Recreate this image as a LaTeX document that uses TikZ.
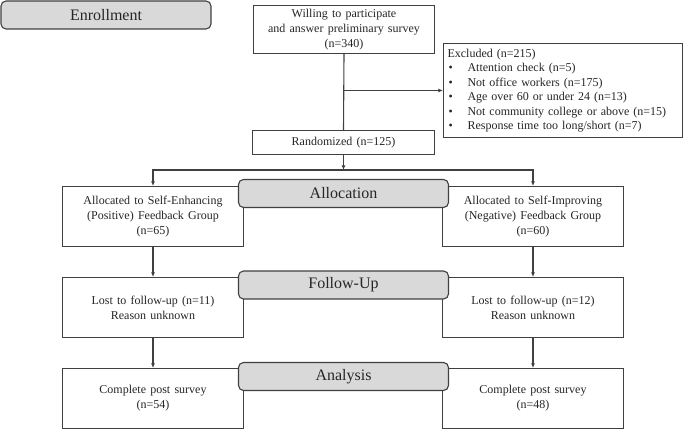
\documentclass[tikz,border=0pt]{standalone}
\usepackage{fontspec}
\setmainfont{Liberation Serif}[WordSpace=1.4]
\usetikzlibrary{arrows.meta}
\definecolor{linec}{HTML}{404040}
\definecolor{hdrfill}{HTML}{D9D9D9}
\definecolor{txtc}{HTML}{262626}
\tikzset{
  box/.style={draw=linec, line width=1.1pt, fill=white, inner sep=0pt, align=center,
    text=txtc, font=\fontsize{12}{15}\selectfont},
  hdr/.style={draw=linec, line width=1.1pt, fill=hdrfill, rounded corners=5pt, inner sep=0pt,
    text=txtc, font=\fontsize{16}{19}\selectfont, minimum width=210pt, minimum height=28pt},
  conn/.style={draw=linec, line width=1.1pt},
  arr/.style={conn, -{Latex[length=4.5pt,width=4pt]}},
}
\newcommand{\bul}{\makebox[20pt][l]{\hspace{1pt}\textbullet}}
\begin{document}
\begin{tikzpicture}[x=1pt,y=-1pt]
\useasboundingbox (0,0) rectangle (685,430);
% main boxes
\node[box, minimum width=181pt, minimum height=48pt] (will) at (344,29.5)
  {Willing to participate\\and answer preliminary survey\\(n=340)};
\node[box, minimum width=182pt, minimum height=24pt] (rand) at (343.5,142.5) {Randomized (n=125)};
\node[box, minimum width=239pt, minimum height=94pt, align=left, text width=231pt,
  font=\fontsize{12}{14.5}\selectfont] (excl) at (563,90.5)
  {Excluded (n=215)\\
   \bul Attention check (n=5)\\
   \bul Not office workers (n=175)\\
   \bul Age over 60 or under 24 (n=13)\\
   \bul Not community college or above (n=15)\\
   \bul Response time too long/short (n=7)};
\node[box, minimum width=181pt, minimum height=60pt] (allocL) at (153,216.5)
  {Allocated to Self-Enhancing\\(Positive) Feedback Group\\(n=65)};
\node[box, minimum width=181pt, minimum height=60pt] (allocR) at (533,216.5)
  {Allocated to Self-Improving\\(Negative) Feedback Group\\(n=60)};
\node[box, minimum width=181pt, minimum height=60pt] (lostL) at (153,307.5)
  {Lost to follow-up (n=11)\\Reason unknown};
\node[box, minimum width=181pt, minimum height=60pt] (lostR) at (533,307.5)
  {Lost to follow-up (n=12)\\Reason unknown};
\node[box, minimum width=181pt, minimum height=60pt] (compL) at (153,398.5)
  {Complete post survey\\(n=54)};
\node[box, minimum width=181pt, minimum height=60pt] (compR) at (533,398.5)
  {Complete post survey\\(n=48)};
% headers
\node[hdr] (enr) at (106,15) {Enrollment};
\node[hdr] (allocH) at (343.5,193.5) {Allocation};
\node[hdr] (follH) at (343.5,285) {Follow-Up};
\node[hdr] (anaH) at (343.5,376.5) {Analysis};
% connectors
\coordinate (exclsplit) at (will.south |- excl.west);
\coordinate (split) at (343.5,170);
\draw[conn] (will.south) -- (rand.north);
\draw[arr] (exclsplit) -- (excl.west);
\draw[arr] (rand.south) -- (split);
\draw[arr] (split) -| (allocL.north);
\draw[arr] (split) -| (allocR.north);
\draw[arr] (allocL) -- (lostL);
\draw[arr] (allocR) -- (lostR);
\draw[arr] (lostL) -- (compL);
\draw[arr] (lostR) -- (compR);
\end{tikzpicture}
\end{document}
